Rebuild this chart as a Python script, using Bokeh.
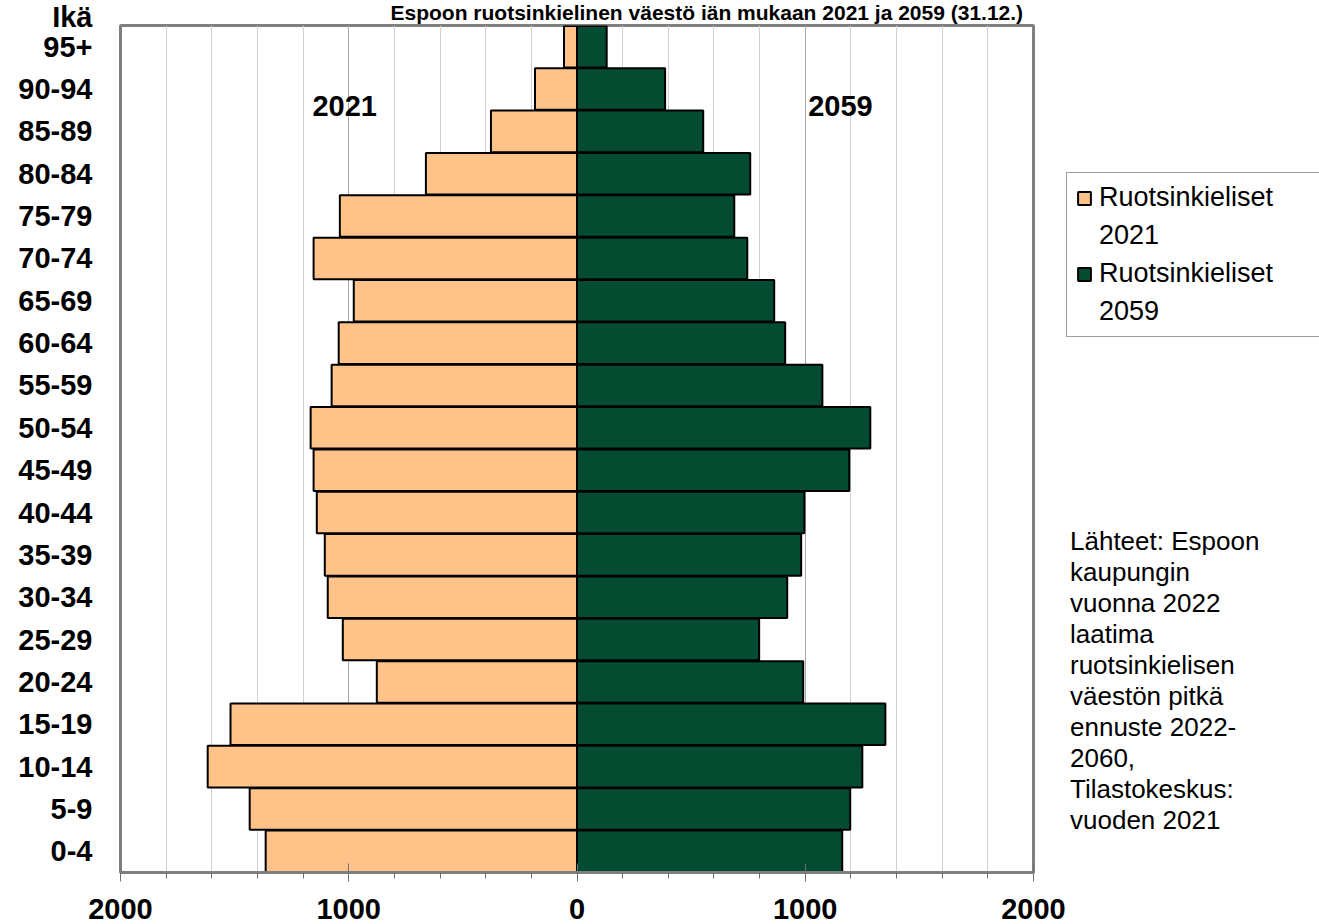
from bokeh.plotting import figure
from bokeh.models import (ColumnDataSource, Range1d, FixedTicker, Label,
                          Legend, LegendItem, Title)
from bokeh.embed import file_html
from bokeh.resources import INLINE

ages = ["0-4", "5-9", "10-14", "15-19", "20-24", "25-29", "30-34", "35-39",
        "40-44", "45-49", "50-54", "55-59", "60-64", "65-69", "70-74", "75-79",
        "80-84", "85-89", "90-94", "95+"]
pop_2021 = [1364, 1434, 1618, 1518, 877, 1026, 1092, 1105, 1140, 1154,
            1167, 1075, 1044, 978, 1154, 1039, 662, 377, 184, 57]
pop_2059 = [1162, 1197, 1250, 1351, 991, 798, 921, 982, 996, 1193,
            1285, 1075, 912, 864, 746, 689, 759, 553, 386, 130]
x_ticks = [-2000, -1000, 0, 1000, 2000]
x_tick_labels = ["2000", "1000", "0", "1000", "2000"]
minor_ticks = list(range(-2000, 2001, 200))
axis_title = "Ikä"

title_text = "Espoon ruotsinkielinen väestö iän mukaan 2021 ja 2059 (31.12.)"
series_name = "Ruotsinkieliset"
year_labels = ["2021", "2059"]
source_lines = ["Lähteet: Espoon", "kaupungin", "vuonna 2022", "laatima",
                "ruotsinkielisen", "väestön pitkä", "ennuste 2022-", "2060,",
                "Tilastokeskus:", "vuoden 2021"]

COL_2021 = "#FFC389"
COL_2059 = "#034C31"
FONT = "Liberation Sans"

ypos = [i + 0.5 for i in range(len(ages))]
src = ColumnDataSource(dict(
    y=ypos,
    left=[-v for v in pop_2021],
    right=pop_2059,
    zero=[0] * len(ages),
))

p = figure(frame_width=913, frame_height=847, output_backend="svg",
           toolbar_location=None,
           y_range=Range1d(0, len(ages)), x_range=Range1d(-2000, 2000),
           min_border_left=120, min_border_right=0,
           min_border_top=25, min_border_bottom=52)

r1 = p.hbar(y="y", left="left", right="zero", height=0.98, source=src,
            fill_color=COL_2021, line_color="black", line_width=2)
r2 = p.hbar(y="y", left="zero", right="right", height=0.98, source=src,
            fill_color=COL_2059, line_color="black", line_width=2)
dummy = p.scatter(x=[], y=[], size=0, fill_alpha=0, line_alpha=0)

p.outline_line_color = "#808080"
p.outline_line_width = 3

# title (above panel)
p.title.visible = False
p.add_layout(Title(text=title_text, align="left", offset=270, standoff=-1,
                   vertical_align="top", text_font=FONT, text_font_style="bold",
                   text_font_size="21px", text_color="black"), "above")

# x axis
xa = p.xaxis[0]
xa.ticker = FixedTicker(ticks=x_ticks, minor_ticks=minor_ticks)
xa.major_label_overrides = {t: l for t, l in zip(x_ticks, x_tick_labels)}
xa.major_label_text_font = FONT
xa.major_label_text_font_style = "bold"
xa.major_label_text_font_size = "29px"
xa.major_label_text_color = "black"
xa.major_label_standoff = 17
xa.axis_line_color = "#808080"
xa.axis_line_width = 3
xa.major_tick_line_color = "#707070"
xa.major_tick_in = 9
xa.major_tick_out = 9
xa.minor_tick_line_color = "#707070"
xa.minor_tick_in = 0
xa.minor_tick_out = 6

# y axis: age groups plus the "Ikä" heading at the top edge
ya = p.yaxis[0]
ya.ticker = FixedTicker(ticks=ypos + [len(ages)], minor_ticks=[])
overrides = {y: a for y, a in zip(ypos, ages)}
overrides[len(ages)] = axis_title + "\n"
ya.major_label_overrides = overrides
ya.major_label_text_font = FONT
ya.major_label_text_font_style = "bold"
ya.major_label_text_font_size = "29px"
ya.major_label_text_line_height = 0.62
ya.major_label_text_color = "black"
ya.major_label_standoff = 28
ya.major_tick_out = 0
ya.major_tick_in = 0
ya.axis_line_color = "#808080"
ya.axis_line_width = 3
ya.major_tick_line_color = None
ya.minor_tick_line_color = None

# grid
p.ygrid.grid_line_color = None
p.xgrid.grid_line_color = "#A8A8A8"
p.xgrid.minor_grid_line_color = "#D0D0D0"

# year labels inside the plot
p.add_layout(Label(x=-1018, y=18.1, text=year_labels[0], text_align="center",
                   text_baseline="middle", text_font=FONT, text_color="black",
                   text_font_style="bold", text_font_size="29px"))
p.add_layout(Label(x=1154, y=18.1, text=year_labels[1], text_align="center",
                   text_baseline="middle", text_font=FONT, text_color="black",
                   text_font_style="bold", text_font_size="29px"))

# legend (right panel); the year lines are glyph-less continuation items
legend = Legend(items=[LegendItem(label=series_name, renderers=[r1]),
                       LegendItem(label=year_labels[0], renderers=[dummy]),
                       LegendItem(label=series_name, renderers=[r2]),
                       LegendItem(label=year_labels[1], renderers=[dummy])],
                location=(33, 535))
legend.label_text_font = FONT
legend.label_text_font_size = "27px"
legend.label_text_color = "black"
legend.label_standoff = 7
legend.label_width = 230
legend.glyph_width = 16
legend.glyph_height = 16
legend.spacing = 7
legend.padding = 9
legend.margin = 0
legend.border_line_color = "#404040"
legend.border_line_width = 1
legend.background_fill_color = "white"
legend.background_fill_alpha = 1
p.add_layout(legend, "right")

# source note (single multi-line glyph-less legend item, placed from the below panel)
note = Legend(items=[LegendItem(label="\n".join(source_lines), renderers=[dummy])],
              location=(949, 680))
note.label_text_font = FONT
note.label_text_font_size = "26px"
note.label_text_color = "black"
note.label_standoff = 0
note.glyph_width = 1
note.glyph_height = 1
note.padding = 0
note.margin = 0
note.border_line_color = None
note.background_fill_alpha = 0
p.add_layout(note, "below")

open("out.html", "w").write(file_html(p, INLINE))
